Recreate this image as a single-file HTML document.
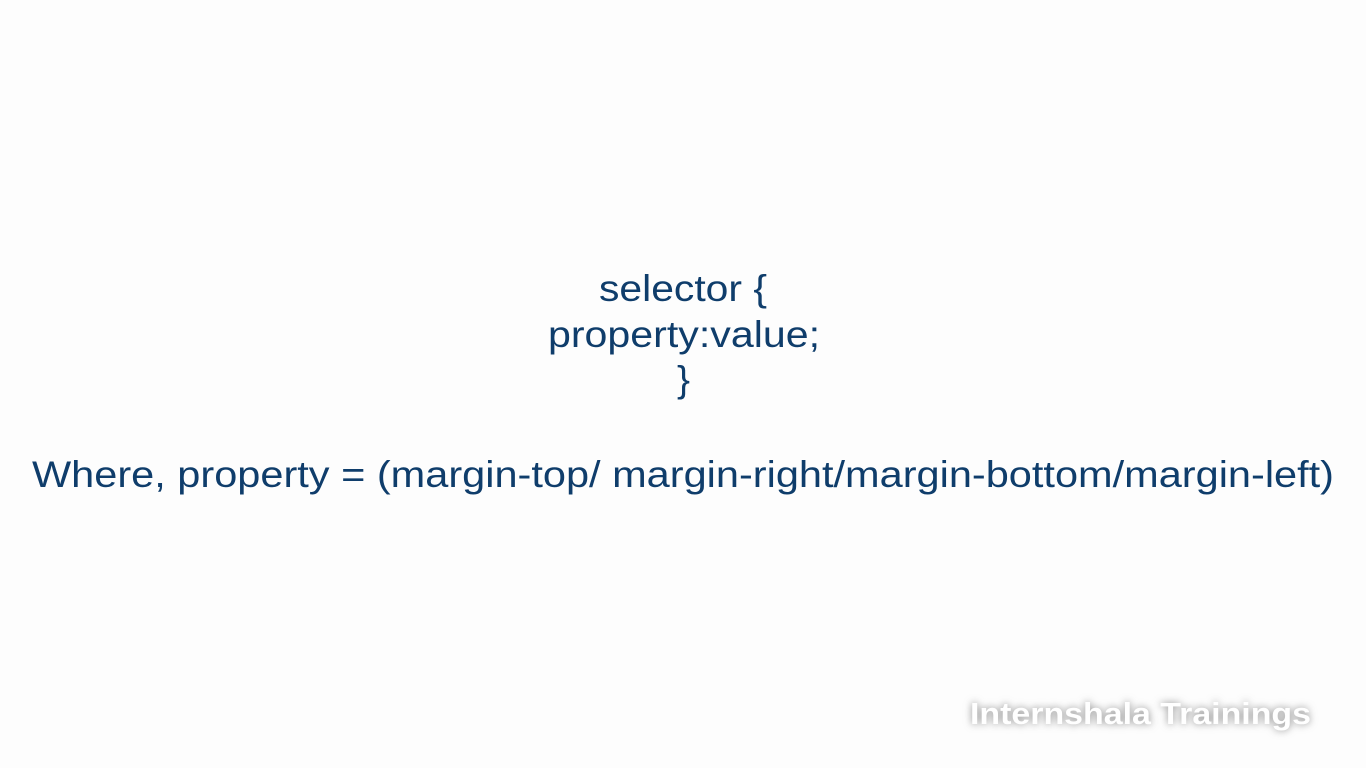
<!DOCTYPE html>
<html><head><meta charset="utf-8"><style>
html,body{margin:0;padding:0;background:#fdfdfd;width:1366px;height:768px;overflow:hidden}
svg{display:block}
</style></head><body>
<svg width="1366" height="768" xmlns="http://www.w3.org/2000/svg">
<defs><filter id="sh" x="-10%" y="-50%" width="120%" height="200%"><feGaussianBlur stdDeviation="4"/></filter></defs>
<rect width="1366" height="768" fill="#fdfdfd"/>
<g font-family="Liberation Sans, sans-serif" font-size="37" fill="#0f3d6b">
<text x="599" y="301" textLength="168" lengthAdjust="spacingAndGlyphs">selector {</text>
<text x="548" y="347" textLength="272" lengthAdjust="spacingAndGlyphs">property:value;</text>
<text x="677" y="392" textLength="13" lengthAdjust="spacingAndGlyphs">}</text>
<text x="32" y="487" textLength="1302" lengthAdjust="spacingAndGlyphs">Where, property = (margin-top/ margin-right/margin-bottom/margin-left)</text>
</g>
<g font-family="Liberation Sans, sans-serif" font-size="31" font-weight="bold">
<text x="970" y="724" textLength="341" lengthAdjust="spacingAndGlyphs" fill="#888" filter="url(#sh)">Internshala Trainings</text>
<text x="970" y="724" textLength="341" lengthAdjust="spacingAndGlyphs" fill="#ffffff">Internshala Trainings</text>
</g>
</svg>
</body></html>
